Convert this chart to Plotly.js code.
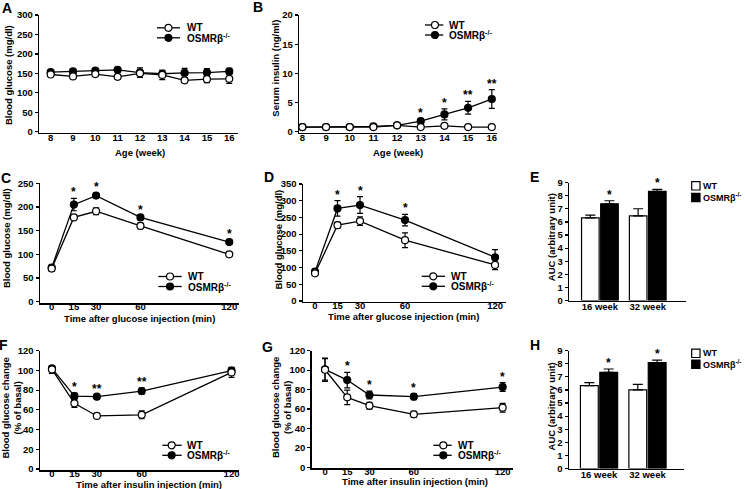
<!DOCTYPE html>
<html><head><meta charset="utf-8">
<script src="https://cdn.plot.ly/plotly-3.0.1.min.js"></script>
<style>html,body{margin:0;padding:0;background:#fff}#chart{width:745px;height:489px}</style>
</head><body><div id="chart"></div>
<script>
// ---------------- DATA ----------------
const weeks = [8, 9, 10, 11, 12, 13, 14, 15, 16];
const ageGlucoseWT = [147, 142, 148, 141, 150, 146, 132, 135, 136];
const ageGlucoseWTErr = [5, 5, 5, 6, 10, 12, 6, 9, 12];
const ageGlucoseKO = [153, 155, 157, 159, 152, 149, 151, 152, 155];
const ageGlucoseKOErr = [4, 4, 4, 5, 12, 9, 12, 10, 8];
const ageGlucoseStars = ['', '', '', '', '', '', '', '', ''];

const insulinWT = [0.8, 0.8, 0.8, 0.8, 1.1, 0.8, 1.0, 0.8, 0.8];
const insulinWTErr = [0.05, 0.05, 0.05, 0.05, 0.1, 0.05, 0.1, 0.05, 0.05];
const insulinKO = [0.8, 0.8, 0.8, 0.9, 1.1, 1.83, 2.97, 4.1, 5.6];
const insulinKOErr = [0.05, 0.05, 0.05, 0.1, 0.1, 0.37, 0.95, 1.1, 1.6];
const insulinStars = ['', '', '', '', '', '*', '*', '**', '**'];

const timePoints = [0, 15, 30, 60, 120];
const timeTicks = [0, 15, 30, 60, 120];

const gttC_WT = [70, 178, 191, 160, 100];
const gttC_WTErr = [6, 4, 7, 6, 3];
const gttC_KO = [72, 205, 224, 178, 126];
const gttC_KOErr = [5, 13, 5, 4, 5];
const gttC_Stars = ['', '*', '*', '*', '*'];

const gttD_WT = [83, 227, 239, 182, 108];
const gttD_WTErr = [6, 8, 13, 22, 14];
const gttD_KO = [88, 277, 287, 242, 131];
const gttD_KOErr = [6, 23, 25, 17, 23];
const gttD_Stars = ['', '*', '*', '*', ''];

const ittF_WT = [101, 66.6, 53.8, 55, 98];
const ittF_WTErr = [4, 4, 2, 4, 5];
const ittF_KO = [102, 74, 73.4, 79, 99.7];
const ittF_KOErr = [3, 3, 2, 3, 3];
const ittF_Stars = ['', '*', '**', '**', ''];

const ittG_WT = [100.4, 72, 63.4, 54.5, 61.4];
const ittG_WTErr = [12, 7.5, 3.5, 3, 4.5];
const ittG_KO = [100.8, 89.8, 74.4, 72.7, 82.6];
const ittG_KOErr = [11, 8, 4, 3, 4.5];
const ittG_Stars = ['', '*', '*', '*', '*'];

const aucGroups = ['16 week', '32 week'];
const aucE_WT = [6.32, 6.47];
const aucE_WTErr = [0.2, 0.54];
const aucE_KO = [7.39, 8.34];
const aucE_KOErr = [0.23, 0.15];
const aucE_Stars = ['*', '*'];

const aucH_WT = [6.33, 6.0];
const aucH_WTErr = [0.23, 0.43];
const aucH_KO = [7.35, 8.1];
const aucH_KOErr = [0.25, 0.18];
const aucH_Stars = ['*', '*'];

const nameWT = 'WT';
const nameKO = 'OSMRβ<sup>-/-</sup>';

// ---------------- LAYOUT HELPERS ----------------
const W = 745, H = 489;
const FONT = 'Liberation Sans, Arial, Helvetica, sans-serif';
const X = px => px / W;
const Y = py => 1 - py / H;
const tickFont = {family: FONT, size: 9.5, color: '#000', weight: 'bold'};

const traces = [];
const shapes = [];
const annotations = [];
const layout = {
  width: W, height: H,
  margin: {l: 0, r: 0, t: 0, b: 0},
  paper_bgcolor: '#fff', plot_bgcolor: 'rgba(0,0,0,0)',
  font: {family: FONT, color: '#000'},
  showlegend: false,
  barmode: 'group', bargap: 0.2, bargroupgap: 0.08,
  shapes: shapes, annotations: annotations
};

function axisPair(n, xDomPx, xRange, yDomPx, yRange, yDtick, xOpts) {
  const xs = n === 1 ? '' : String(n);
  const xa = Object.assign({
    domain: [X(xDomPx[0]), X(xDomPx[1])], range: xRange, anchor: 'y' + xs,
    showline: true, linecolor: '#000', linewidth: 1.5, ticks: '',
    showgrid: false, zeroline: false, tickfont: tickFont, fixedrange: true
  }, xOpts || {});
  const ya = {
    domain: [Y(yDomPx[0]), Y(yDomPx[1])], range: yRange, anchor: 'x' + xs,
    tick0: 0, dtick: yDtick,
    showline: true, linecolor: '#000', linewidth: 1.5, ticks: 'outside',
    ticklen: 3, tickwidth: 1.2, tickcolor: '#000',
    showgrid: false, zeroline: false, tickfont: tickFont, fixedrange: true
  };
  layout['xaxis' + xs] = xa;
  layout['yaxis' + xs] = ya;
  return {x: 'x' + xs, y: 'y' + xs};
}

function lineTraces(ax, x, wt, wtErr, ko, koErr, stars) {
  const common = {type: 'scatter', mode: 'lines+markers', xaxis: ax.x, yaxis: ax.y, cliponaxis: false,
    line: {color: '#000', width: 1.3}};
  traces.push(Object.assign({}, common, {
    name: nameKO, x: x, y: ko,
    marker: {symbol: 'circle', size: 7, color: '#000', line: {color: '#000', width: 1.2}},
    error_y: {type: 'data', array: koErr, visible: true, color: '#000', thickness: 1.2, width: 3}
  }));
  traces.push(Object.assign({}, common, {
    name: nameWT, x: x, y: wt,
    marker: {symbol: 'circle', size: 7, color: '#fff', line: {color: '#000', width: 1.2}},
    error_y: {type: 'data', array: wtErr, visible: true, color: '#000', thickness: 1.2, width: 3}
  }));
  stars.forEach((s, i) => {
    if (!s) return;
    annotations.push({xref: ax.x, yref: ax.y, x: x[i], y: Math.max(ko[i] + koErr[i], wt[i] + wtErr[i]),
      text: s, showarrow: false, xanchor: 'center', yanchor: 'bottom', yshift: -3,
      font: {family: FONT, size: 12, color: '#000', weight: 'bold'}});
  });
}

function barTraces(ax, cats, wt, wtErr, ko, koErr, stars) {
  traces.push({type: 'bar', name: nameWT, x: cats, y: wt, xaxis: ax.x, yaxis: ax.y,
    marker: {color: '#fff', line: {color: '#000', width: 1.2}},
    error_y: {type: 'data', symmetric: false, array: wtErr, arrayminus: wtErr.map(() => 0), color: '#000', thickness: 1.2, width: 5}});
  traces.push({type: 'bar', name: nameKO, x: cats, y: ko, xaxis: ax.x, yaxis: ax.y,
    marker: {color: '#000', line: {color: '#000', width: 1.2}},
    error_y: {type: 'data', symmetric: false, array: koErr, arrayminus: koErr.map(() => 0), color: '#000', thickness: 1.2, width: 5}});
  const off = (1 - layout.bargap) / 4;
  stars.forEach((s, i) => {
    if (!s) return;
    annotations.push({xref: ax.x, yref: ax.y, x: i + off, y: ko[i] + koErr[i],
      text: s, showarrow: false, xanchor: 'center', yanchor: 'bottom', yshift: -3,
      font: {family: FONT, size: 12, color: '#000', weight: 'bold'}});
  });
}

function lineLegend(x0, x1, xc, xt, yWT, yKO) {
  const legFont = {family: FONT, size: 10, color: '#000', weight: 'bold'};
  [[yWT, '#fff', nameWT], [yKO, '#000', nameKO]].forEach(([yy, fill, nm]) => {
    shapes.push({type: 'line', xref: 'paper', yref: 'paper', x0: X(x0), x1: X(x1), y0: Y(yy), y1: Y(yy),
      line: {color: '#000', width: 1.3}, layer: 'above'});
    shapes.push({type: 'circle', xref: 'paper', yref: 'paper', x0: X(xc - 3.5), x1: X(xc + 3.5),
      y0: Y(yy + 3.5), y1: Y(yy - 3.5), fillcolor: fill, line: {color: '#000', width: 1.2}, layer: 'above'});
    annotations.push({xref: 'paper', yref: 'paper', x: X(xt), y: Y(yy), text: nm, showarrow: false,
      xanchor: 'left', yanchor: 'middle', borderpad: 0, font: legFont});
  });
}
function barLegend(x0, x1, xt, yWT, yKO) {
  const legFont = {family: FONT, size: 9, color: '#000', weight: 'bold'};
  [[yWT, '#fff', nameWT], [yKO, '#000', nameKO]].forEach(([yy, fill, nm]) => {
    shapes.push({type: 'rect', xref: 'paper', yref: 'paper', x0: X(x0), x1: X(x1), y0: Y(yy + 4.2), y1: Y(yy - 4.2),
      fillcolor: fill, line: {color: '#000', width: 1.2}, layer: 'above'});
    annotations.push({xref: 'paper', yref: 'paper', x: X(xt), y: Y(yy), text: nm, showarrow: false,
      xanchor: 'left', yanchor: 'middle', borderpad: 0, font: legFont});
  });
}

const titleFont = {family: FONT, size: 9.5, color: '#000', weight: 'bold'};
function xTitle(text, cx, cy) {
  annotations.push({xref: 'paper', yref: 'paper', x: X(cx), y: Y(cy), text: text, showarrow: false,
    xanchor: 'center', yanchor: 'middle', font: titleFont});
}
function yTitle(text, cx, cy) {
  annotations.push({xref: 'paper', yref: 'paper', x: X(cx), y: Y(cy), text: text, showarrow: false,
    textangle: -90, xanchor: 'center', yanchor: 'middle', font: titleFont});
}
function panelLetter(text, cx, cy) {
  annotations.push({xref: 'paper', yref: 'paper', x: X(cx), y: Y(cy), text: text, showarrow: false,
    xanchor: 'center', yanchor: 'middle', font: {family: FONT, size: 14, color: '#000', weight: 'bold'}});
}

// ---------------- PANELS ----------------
const tOpts = {tickmode: 'array', tickvals: timeTicks, ticktext: timeTicks.map(String), ticklabelstandoff: -6};
const wOpts = {tickmode: 'array', tickvals: weeks, ticktext: weeks.map(String), ticklabelstandoff: -5};
const cOpts = {type: 'category', ticklabelstandoff: -3};

// A
const axA = axisPair(1, [39.3, 237.5], [7.49, 16.37], [132.7, 15], [-2.6, 300], 50, wOpts);
lineTraces(axA, weeks, ageGlucoseWT, ageGlucoseWTErr, ageGlucoseKO, ageGlucoseKOErr, ageGlucoseStars);
lineLegend(157, 180, 168.5, 186, 27.8, 37.8);
xTitle('Age (week)', 140, 152);
yTitle('Blood glucose (mg/dl)', 8, 75);
panelLetter('A', 7, 7.7);

// B
const axB = axisPair(2, [299.3, 497], [7.87, 16.22], [132.7, 15], [-0.17, 20], 5, wOpts);
lineTraces(axB, weeks, insulinWT, insulinWTErr, insulinKO, insulinKOErr, insulinStars);
lineLegend(425, 443.3, 435, 448, 25, 35);
xTitle('Age (week)', 398, 152);
yTitle('Serum insulin (ng/ml)', 274.7, 68);
panelLetter('B', 258, 7);

// C
const axC = axisPair(3, [40, 239], [-7.9, 126.6], [303, 183.3], [-2.7, 250], 50, tOpts);
lineTraces(axC, timePoints, gttC_WT, gttC_WTErr, gttC_KO, gttC_KOErr, gttC_Stars);
lineLegend(158.3, 181.7, 170, 186.7, 276.5, 286.5);
xTitle('Time after glucose injection (min)', 139, 318);
yTitle('Blood glucose (mg/dl)', 7, 238);
panelLetter('C', 5.5, 178);

// D
const axD = axisPair(4, [303, 506], [-8, 127.3], [301.7, 184], [-2, 350], 50, tOpts);
lineTraces(axD, timePoints, gttD_WT, gttD_WTErr, gttD_KO, gttD_KOErr, gttD_Stars);
lineLegend(421.7, 445, 433.3, 450, 276.3, 286.3);
xTitle('Time after glucose injection (min)', 403, 316.7);
yTitle('Blood glucose (mg/dl)', 277.5, 240);
panelLetter('D', 269, 176.7);

// E
const axE = axisPair(5, [569.3, 686], [-0.64, 1.8], [300.5, 182.7], [0, 9], 1, cOpts);
barTraces(axE, aucGroups, aucE_WT, aucE_WTErr, aucE_KO, aucE_KOErr, aucE_Stars);
barLegend(691.7, 700, 702, 185.8, 197.5);
yTitle('AUC (arbitrary unit)', 551.7, 237.5);
panelLetter('E', 534, 177);

// F
const axF = axisPair(6, [40, 239], [-8, 125], [470, 350.7], [-1, 120], 20, tOpts);
lineTraces(axF, timePoints, ittF_WT, ittF_WTErr, ittF_KO, ittF_KOErr, ittF_Stars);
lineLegend(162.3, 181.7, 171.7, 186, 445.3, 455.3);
xTitle('Time after insulin injection (min)', 149, 484);
yTitle('Blood glucose change<br>(% of basal)', 10.5, 408);
panelLetter('F', 3.5, 345);

// G
const axG = axisPair(7, [311.7, 513], [-9, 127], [468.3, 350.7], [-1, 120], 20, tOpts);
lineTraces(axG, timePoints, ittG_WT, ittG_WTErr, ittG_KO, ittG_KOErr, ittG_Stars);
lineLegend(433.3, 451.7, 443.3, 456.7, 445.3, 455.3);
xTitle('Time after insulin injection (min)', 415, 481.7);
yTitle('Blood glucose change<br>(% of basal)', 281, 408);
panelLetter('G', 267, 346.7);

// H
const axH = axisPair(8, [569, 684.3], [-0.62, 1.76], [468.5, 350.7], [0, 9], 1, cOpts);
barTraces(axH, aucGroups, aucH_WT, aucH_WTErr, aucH_KO, aucH_KOErr, aucH_Stars);
barLegend(691.7, 700, 702, 353.3, 364.3);
yTitle('AUC (arbitrary unit)', 551.7, 406.7);
panelLetter('H', 535, 345);

Plotly.newPlot('chart', traces, layout, {displayModeBar: false, staticPlot: true}).then(gd => {
  // drop the empty placeholder title nodes plotly leaves for untitled axes
  gd.querySelectorAll('text').forEach(t => { if (!t.textContent.trim()) t.remove(); });
});
</script>
</body></html>
